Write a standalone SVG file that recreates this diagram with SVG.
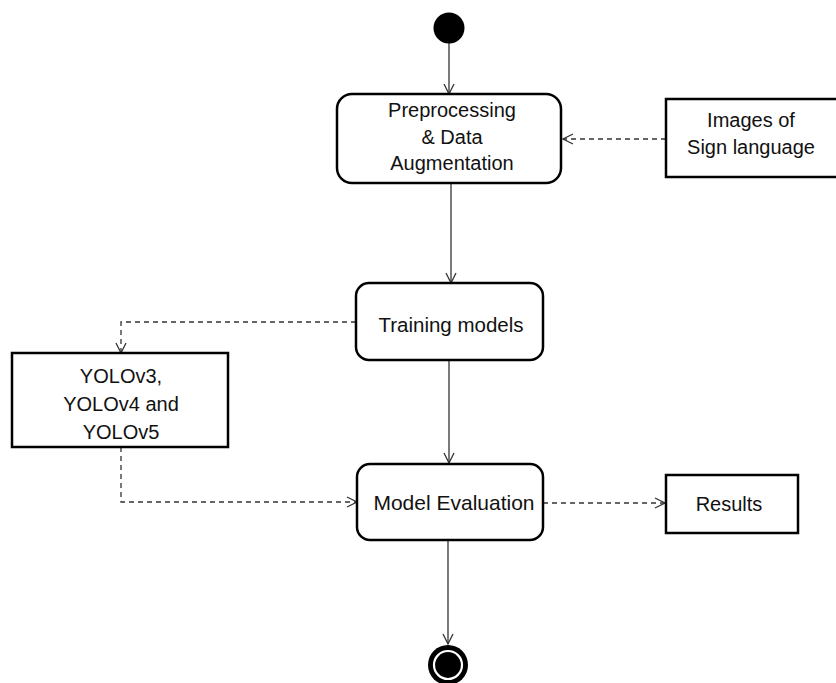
<svg xmlns="http://www.w3.org/2000/svg" width="836" height="683" viewBox="0 0 836 683">
  <defs>
    <marker id="open" viewBox="0 0 12 12" refX="11" refY="6" markerWidth="12" markerHeight="12" markerUnits="userSpaceOnUse" orient="auto">
      <path d="M1,1 L11,6 L1,11" fill="none" stroke="#333" stroke-width="1.3"/>
    </marker>
  </defs>
  <style>
    .action { fill: #fff; stroke: #000; stroke-width: 2.5; }
    .obj { fill: #fff; stroke: #000; stroke-width: 2.5; }
    .flow { fill: none; stroke: #333; stroke-width: 1.3; marker-end: url(#open); }
    .dash { stroke-dasharray: 5 4; }
    text { font-family: "Liberation Sans", Arial, sans-serif; font-size: 20px; fill: #111; text-anchor: middle; dominant-baseline: central; }
  </style>
  <rect width="836" height="683" fill="#fff"/>

  <g id="connectors">
    <path class="flow" d="M449,43 L449,94"/>
    <path class="flow dash" d="M666,139 L563,139"/>
    <path class="flow" d="M451,183 L451,283"/>
    <path class="flow dash" d="M356,322 L121,322 L121,353"/>
    <path class="flow" d="M449,360 L449,463"/>
    <path class="flow dash" d="M121,447 L121,502 L357,502"/>
    <path class="flow dash" d="M543,503 L665,503"/>
    <path class="flow" d="M448,540 L448,644"/>
  </g>

  <g id="start">
    <circle cx="449" cy="28" r="15.5" fill="#000"/>
  </g>

  <g id="preprocessing">
    <rect class="action" x="337" y="94" width="224" height="89" rx="15"/>
    <text x="452" y="110">Preprocessing</text>
    <text x="452" y="137">&amp; Data</text>
    <text x="452" y="163">Augmentation</text>
  </g>

  <g id="images">
    <rect class="obj" x="666" y="99" width="172" height="78"/>
    <text x="751" y="120">Images of</text>
    <text x="751" y="147">Sign language</text>
  </g>

  <g id="training">
    <rect class="action" x="356" y="283" width="187" height="77" rx="13"/>
    <text x="451" y="324" style="font-size:20.5px">Training models</text>
  </g>

  <g id="yolo">
    <rect class="obj" x="12" y="353" width="216" height="94"/>
    <text x="121" y="376">YOLOv3,</text>
    <text x="121" y="404">YOLOv4 and</text>
    <text x="121" y="432">YOLOv5</text>
  </g>

  <g id="evaluation">
    <rect class="action" x="357" y="464" width="186" height="76" rx="13"/>
    <text x="454" y="502" style="font-size:21px">Model Evaluation</text>
  </g>

  <g id="results">
    <rect class="obj" x="666" y="475" width="132" height="58"/>
    <text x="729" y="504">Results</text>
  </g>

  <g id="end">
    <circle cx="448" cy="665" r="20" fill="#000"/>
    <circle cx="448" cy="665" r="14" fill="none" stroke="#fff" stroke-width="2.2"/>
  </g>
</svg>
